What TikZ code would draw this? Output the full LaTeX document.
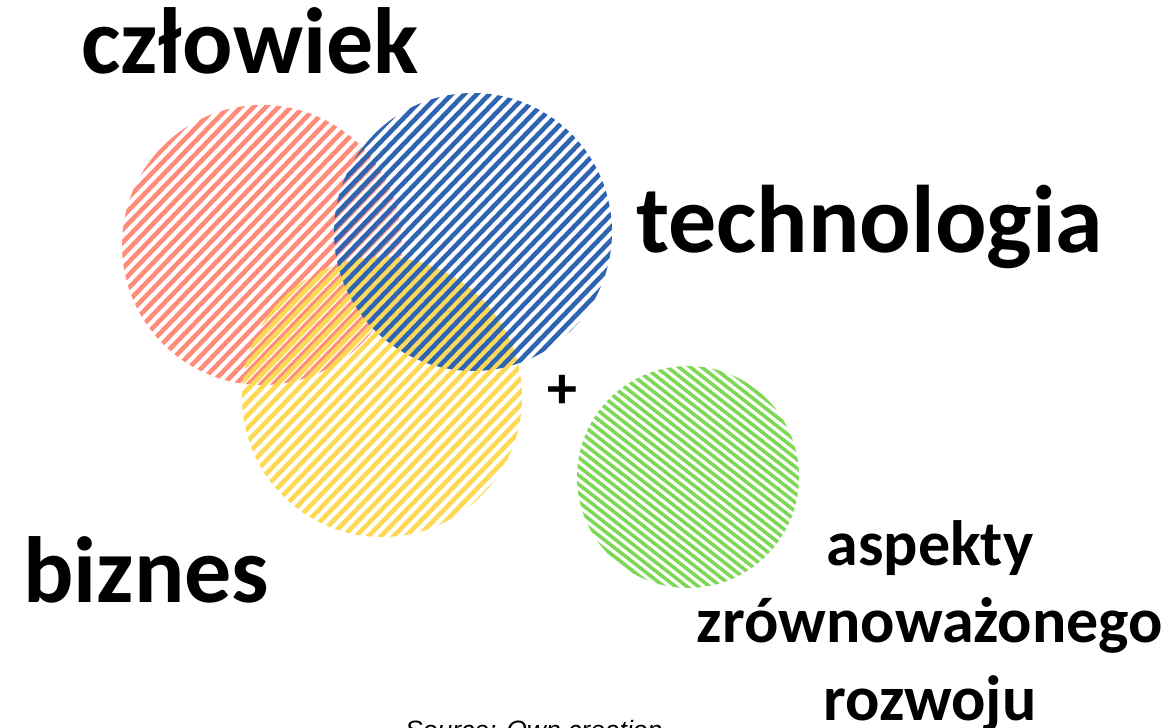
\documentclass[tikz,border=0pt]{standalone}
\usepackage{fontspec}
\usepackage{xcolor}
\setmainfont{Carlito}
\newfontfamily\srcfont{Liberation Sans}

\definecolor{humanred}{HTML}{FF8B7B}
\definecolor{techblue}{HTML}{2F65B0}
\definecolor{bizyellow}{HTML}{FDD955}
\definecolor{ecogreen}{HTML}{7DD955}

% striped disk: centre x, centre y, radius, angle, period, stripe width, colour
\newcommand{\stripedisk}[7]{%
  \begin{scope}
    \clip (#1,#2) circle (#3pt);
    \begin{scope}[shift={(#1,#2)},rotate=#4]
      \foreach \k in {-150,-\the\numexpr150-#5\relax,...,150}
        \draw[line width=#6pt,color=#7] (-160,\k) -- (160,\k);
    \end{scope}
  \end{scope}}

\tikzset{
  bigword/.style={anchor=base west,inner sep=0pt,font=\bfseries\fontsize{94}{100}\selectfont},
  midword/.style={anchor=base,inner sep=0pt,font=\bfseries\fontsize{64}{77}\selectfont}
}

\begin{document}
\begin{tikzpicture}[x=1pt,y=1pt]
            \useasboundingbox (0,0) rectangle (1175,728);
            \clip (0,0) rectangle (1175,728);

            % circles
            \stripedisk{262}{483}{140}{46}{9}{4.6}{humanred}
            \stripedisk{382}{331}{140}{46}{9}{4.6}{bizyellow}
            \stripedisk{473}{496}{139}{46}{9}{4.6}{techblue}
            \stripedisk{688}{251}{111}{-38}{7}{3.6}{ecogreen}

            % labels
            \node (czlowiek) at (81,654) [bigword] {człowiek};
            \node (technologia) at (636,475) [bigword,font=\bfseries\fontsize{96}{100}\selectfont] {technologia};
            \node (biznes) at (23,125) [bigword] {biznes};
            \node (plus) at (562,336) [inner sep=0pt,font=\bfseries\fontsize{60}{60}\selectfont] {+};

            \node (asp1) at (930,162) [midword] {aspekty};
            \node (asp2) at (930,85) [midword] {zrównoważonego};
            \node (asp3) at (930,8) [midword] {rozwoju};

            \node (source) at (405,-11) [anchor=base west,inner sep=0pt,font=\srcfont\itshape\fontsize{26.5}{30}\selectfont] {Source: Own creation};

        \end{tikzpicture}
\end{document}
